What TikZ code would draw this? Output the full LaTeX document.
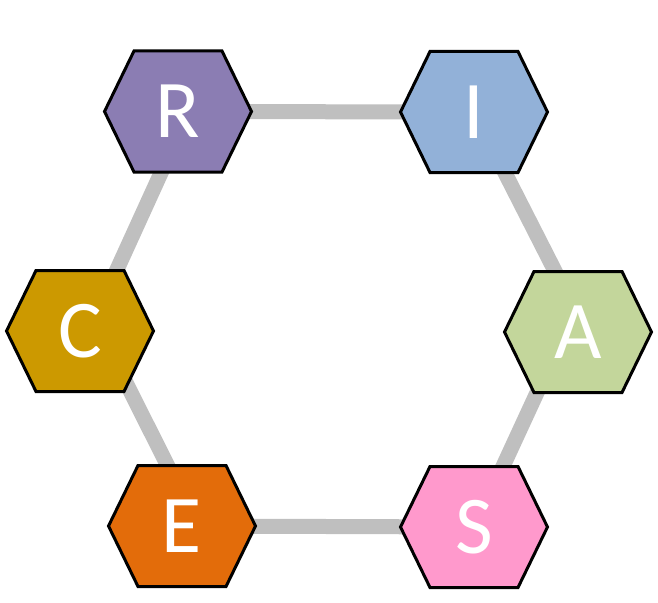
\documentclass[tikz,border=0pt]{standalone}
\usepackage{fontspec}
\setmainfont{Carlito}
\usetikzlibrary{backgrounds}
\definecolor{cR}{HTML}{8B7DB3}
\definecolor{cI}{HTML}{92B1D8}
\definecolor{cC}{HTML}{CC9900}
\definecolor{cA}{HTML}{C3D69B}
\definecolor{cE}{HTML}{E36C0A}
\definecolor{cS}{HTML}{FF99CC}
\definecolor{linkgray}{HTML}{BFBFBF}
\begin{document}
\begin{tikzpicture}[x=1pt,y=-1pt,
  hexa/.style={shape=rectangle, minimum width=147pt, minimum height=121pt,
    inner sep=0pt, text=white, font=\fontsize{82}{82}\selectfont},
  hexline/.style={draw=black, line width=3pt, line join=miter},
  link/.style={draw=linkgray, line width=15pt}]
\useasboundingbox (0,0) rectangle (658,602);
\node[hexa] (R) at (178,111.5) {R};
\node[hexa] (I) at (474,112) {I};
\node[hexa] (C) at (80,331) {C};
\node[hexa] (A) at (578,332) {A};
\node[hexa] (E) at (182,526) {E};
\node[hexa] (S) at (474,527) {S};
\begin{scope}[on background layer]
\draw[link] (R.center) -- (I.center);
\draw[link] (E.center) -- (S.center);
\draw[link] ([xshift=11pt]R.center) -- ([xshift=9pt]C.center);
\draw[link] ([xshift=20pt]C.center) -- ([xshift=16pt]E.center);
\draw[link] (I.center) -- ([xshift=8pt]A.center);
\draw[link] ([xshift=-13pt]A.center) -- ([xshift=1pt]S.center);
\foreach \n/\c in {R/cR,I/cI,C/cC,A/cA,E/cE,S/cS}{
  \filldraw[hexline, fill=\c]
    ([shift={(-73.5pt,0pt)}]\n.center) -- ([shift={(-44pt,60.5pt)}]\n.center)
    -- ([shift={(44pt,60.5pt)}]\n.center) -- ([shift={(73.5pt,0pt)}]\n.center)
    -- ([shift={(44pt,-60.5pt)}]\n.center) -- ([shift={(-44pt,-60.5pt)}]\n.center)
    -- cycle;
}
\end{scope}
\end{tikzpicture}
\end{document}
